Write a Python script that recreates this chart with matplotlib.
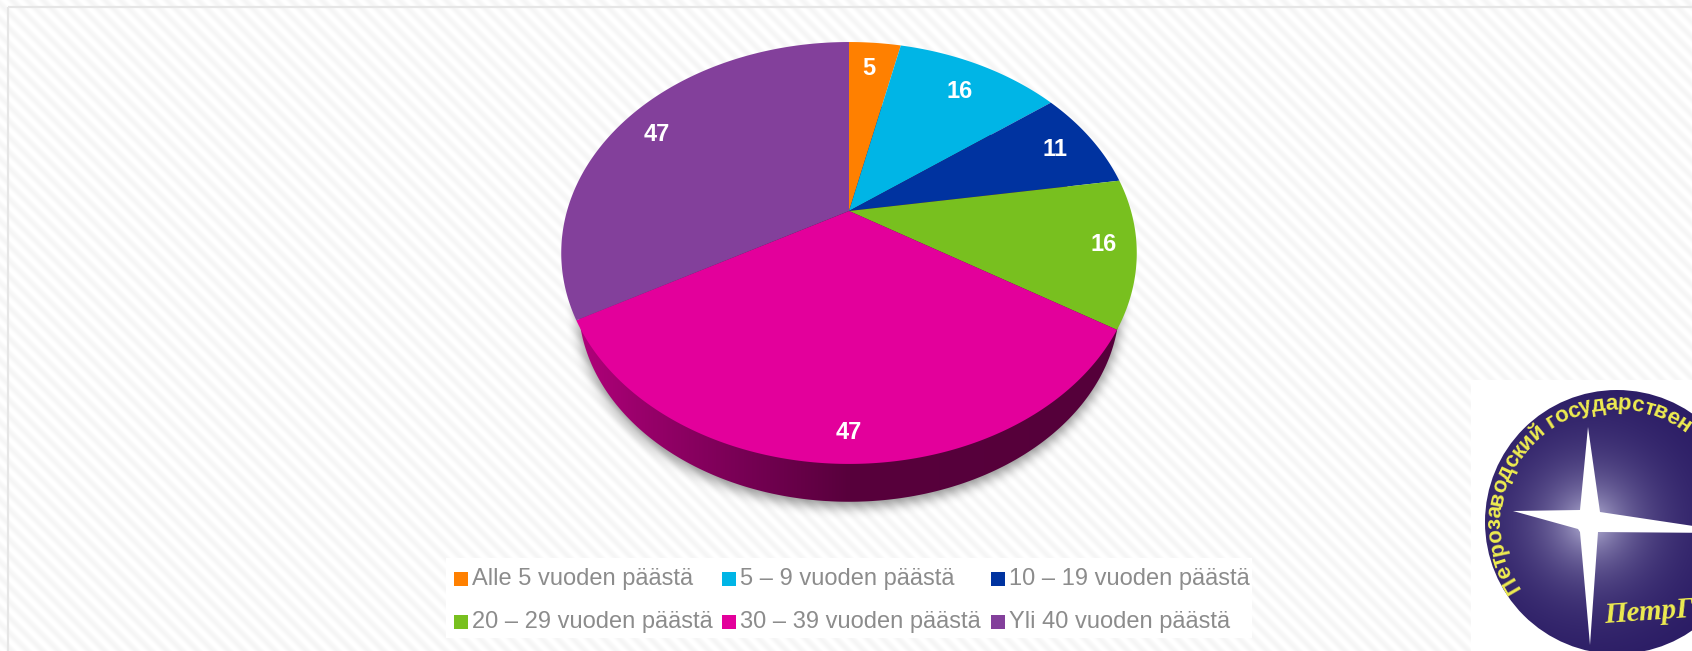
import numpy as np
import matplotlib
matplotlib.use('Agg')
import matplotlib.pyplot as plt
from matplotlib import font_manager
from matplotlib.colors import LinearSegmentedColormap
from matplotlib.patches import Rectangle, Polygon, Circle
from matplotlib.path import Path

plt.rcParams['font.family'] = ['Liberation Sans', 'DejaVu Sans']

# Chart data
labels = ['Alle 5 vuoden päästä', '5 – 9 vuoden päästä', '10 – 19 vuoden päästä',
          '20 – 29 vuoden päästä', '30 – 39 vuoden päästä', 'Yli 40 vuoden päästä']
values = [5, 16, 11, 16, 47, 47]
colors = ['#FF8000', '#00B5E6', '#0033A0', '#78C01F', '#E3009B', '#83409B']

logo_text = 'Петрозаводский государственный университет'
logo_name = 'ПетрГУ'

W, H = 1692, 651
fig = plt.figure(figsize=(W / 100, H / 100), dpi=100)
ax = fig.add_axes([0, 0, 1, 1])
ax.set_xlim(0, W)
ax.set_ylim(H, 0)
ax.axis('off')

# Striped slide background
yy, xx = np.mgrid[0:H, 0:W]
stripes = 0.98 + 0.02 * np.sin(2 * np.pi * (xx - yy) / 15.5)
ax.imshow(stripes, cmap='gray', vmin=0, vmax=1, extent=(0, W, H, 0), aspect='auto', zorder=0)
ax.add_patch(Rectangle((8, 7), W, H, fill=False, ec='#e6e6e6', lw=1.6, zorder=1))

# Perspective view of the pie
CX, CY = 849, 211
RX, RY, TILT = 282.0, 202.6, 0.199
SCALE_LOW, DROP_LOW = 0.94, 53


def project(theta, r=1.0, scale=1.0, drop=0.0):
    # theta is clockwise from the top, in degrees
    t = np.radians(theta)
    x, y = r * np.sin(t), r * np.cos(t)
    w = 1 + TILT * y
    return CX + scale * RX * x / w, CY + drop - scale * RY * y / w


angles = np.concatenate([[0], np.cumsum(values) / np.sum(values) * 360])
full = np.linspace(0, 360, 721)

# Soft shadow below the pie
lx, ly = project(full, scale=SCALE_LOW * 1.005, drop=DROP_LOW + 4)
mask = Path(np.column_stack([lx, ly])).contains_points(
    np.column_stack([xx.ravel() + 0.5, yy.ravel() + 0.5])).reshape(H, W).astype(float)
kernel = np.ones(11) / 11
for i in range(3):
    mask = np.apply_along_axis(lambda v: np.convolve(v, kernel, mode='same'), 0, mask)
    mask = np.apply_along_axis(lambda v: np.convolve(v, kernel, mode='same'), 1, mask)
shadow = np.zeros((H, W, 4))
shadow[..., 3] = mask * 0.42
ax.imshow(shadow, extent=(0, W, H, 0), aspect='auto', zorder=2)

# Side wall, drawn as the lower disc with a horizontal gradient
wall_cmap = LinearSegmentedColormap.from_list(
    'wall', [(0, '#b0007a'), (0.12, '#98006a'), (0.32, '#740052'), (0.5, '#58003c'), (1, '#55003a')])
lx, ly = project(full, scale=SCALE_LOW, drop=DROP_LOW)
wall = ax.imshow(np.linspace(0, 1, 256).reshape(1, -1), cmap=wall_cmap, aspect='auto',
                 extent=(lx.min(), lx.max(), ly.max(), ly.min()), zorder=3)
wall.set_clip_path(Polygon(np.column_stack([lx, ly]), closed=True, transform=ax.transData))

# Top face slices
for i, c in enumerate(colors):
    t = np.linspace(angles[i], angles[i + 1], 200)
    px, py = project(t)
    ax.fill(np.r_[CX, px], np.r_[CY, py], color=c, lw=0, zorder=4)

# Value labels inside the slices
mids = (angles[:-1] + angles[1:]) / 2
label_nudge = [(-3, 6.5), (-5.5, 10), (-5.5, 3), (5.5, -3), (6.5, 8.5), (2, 5.5)]
for v, m, (dx, dy) in zip(values, mids, label_nudge):
    lx, ly = project(m, r=0.87)
    ax.text(lx + dx, ly + dy, str(v), color='white', fontsize=17, fontweight='bold',
            ha='center', va='center', zorder=5)

# Legend
ax.add_patch(Rectangle((446, 558), 806, 80, fc='white', ec='none', zorder=5))
col_x = [454, 722, 991]
row_y = [579, 622]
for i, (lab, c) in enumerate(zip(labels, colors)):
    x = col_x[i % 3]
    y = row_y[i // 3]
    ax.add_patch(Rectangle((x, y - 7), 14, 14, fc=c, ec='none', zorder=6))
    ax.text(x + 18, y, lab, color='#8c8c8c', fontsize=17, ha='left', va='center', zorder=6)

# Logo in the corner
ax.add_patch(Rectangle((1471, 380), W - 1471, H - 380, fc='white', ec='none', zorder=5))
lcx, lcy, lr = 1617, 522, 132
sx, sy = 1590, 522
dist = np.hypot(xx - sx, yy - sy)
glow = 0.88 * np.exp(-dist / 44.0)
navy = np.array([0.15, 0.09, 0.38])
logo_rgb = navy[None, None, :] + (np.array([0.85, 0.85, 0.95]) - navy)[None, None, :] * glow[..., None]
img = ax.imshow(logo_rgb, extent=(0, W, H, 0), aspect='auto', zorder=6)
img.set_clip_path(Circle((lcx, lcy), lr, transform=ax.transData))
star = [(1588, 427), (1600, 512), (1720, 530), (1720, 533), (1598, 532), (1590, 645),
        (1580, 532), (1578, 529), (1513, 511), (1580, 510)]
ax.add_patch(Polygon(star, closed=True, fc='white', ec='none', zorder=7))

# Curved text round the disc, stepped by the real letter widths
text_size = 16
text_r = 120
fp = font_manager.FontProperties(family='Liberation Sans', weight='bold')
font = font_manager.get_font(font_manager.findfont(fp))
font.set_size(text_size, 100)
a = -124.0
for ch in logo_text:
    adv = font.load_char(ord(ch)).linearHoriAdvance / 65536
    step = np.degrees(adv / text_r)
    mid = a + step / 2
    tx = 1615 + text_r * np.sin(np.radians(mid))
    ty = 524 - text_r * np.cos(np.radians(mid))
    if tx > W - 8:
        break
    ax.text(tx, ty, ch, color='#eeec50', fontsize=text_size, fontweight='bold', rotation=-mid,
            rotation_mode='anchor', ha='center', va='center', zorder=8)
    a += step
ax.text(1603, 612, logo_name, color='#eeec50', fontsize=21, fontweight='bold', style='italic',
        family='Liberation Serif', ha='left', va='center', rotation=4, zorder=8)

fig.savefig('out.png', dpi=100)
